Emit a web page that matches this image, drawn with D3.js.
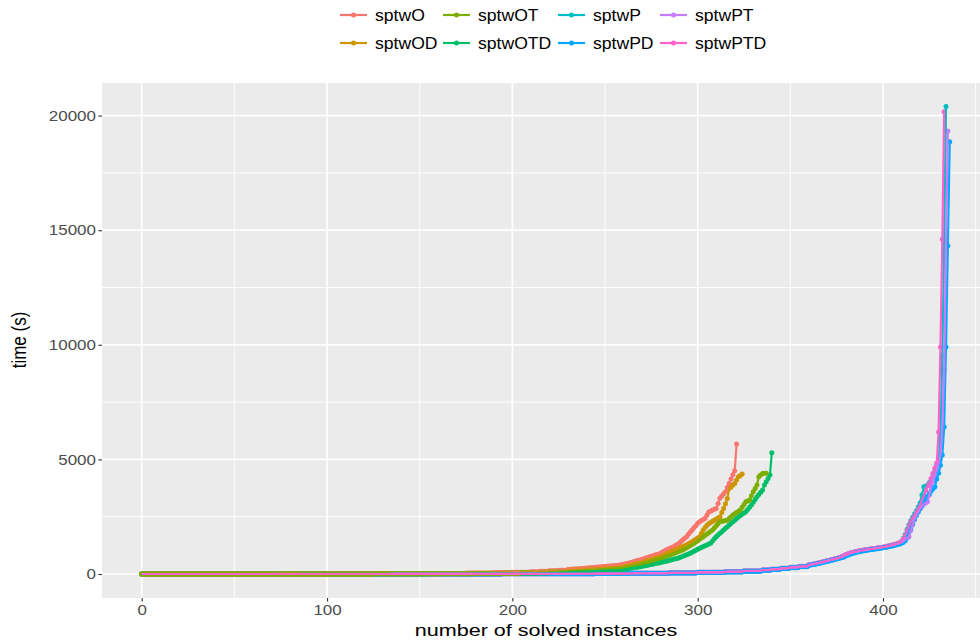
<!DOCTYPE html>
<html><head><meta charset="utf-8">
<script src="https://cdn.jsdelivr.net/npm/d3@7/dist/d3.min.js"></script>
<style>
body{margin:0;background:#fff;}
text{font-family:"Liberation Sans",Arial,Helvetica,sans-serif;}
</style>
</head><body>
<svg id="chart" width="980" height="640"></svg>
<script>
// ---------------- DATA ----------------
const seriesNames  = ["sptwO","sptwOD","sptwOT","sptwOTD","sptwP","sptwPD","sptwPT","sptwPTD"];
const seriesColors = ["#F8766D","#CD9600","#7CAE00","#00BE67","#00BFC4","#00A9FF","#C77CFF","#FF61CC"];
const xTicks = [0,100,200,300,400];
const xMinor = [50,150,250,350,450];
const yTicks = [0,5000,10000,15000,20000];
const yMinor = [2500,7500,12500,17500];

// sorted solve times: runs of [time, count] for the flat start, then each remaining instance
const runs_sptwO = [[0.5,40],[1,30],[3,30],[6,20],[10,20],[15,20],[25,15],[40,15],[60,10],[80,10],[100,5],[120,5],[140,5],[160,5]];
const tail_sptwO = [
 200,205,210,214,220,226,232,238,245,252,
 260,266,272,279,285,292,300,308,315,322,
 330,337,345,352,358,365,372,380,392,410,
 428,445,462,482,505,528,552,575,595,612,
 640,668,695,722,750,775,800,825,850,875,
 905,955,1005,1050,1085,1120,1155,1190,1240,1290,
 1345,1420,1490,1560,1630,1730,1830,1925,2020,2110,
 2210,2280,2330,2380,2430,2570,2700,2740,2790,2830,
 2860,3080,3300,3400,3500,3590,3770,3950,4150,4330,
 4510,5670];

const runs_sptwOD = [[0.5,45],[1,30],[3,30],[5,20],[8,20],[12,20],[20,15],[30,15],[45,10],[65,10],[85,5],[105,5],[125,5]];
const tail_sptwOD = [
 160,165,170,175,180,185,190,196,202,208,
 214,220,226,232,238,244,250,256,262,268,
 274,280,285,290,296,302,308,314,322,340,
 360,380,400,420,440,460,482,505,525,545,
 565,588,610,635,658,682,705,730,755,780,
 805,830,860,892,925,955,988,1020,1050,1085,
 1120,1160,1195,1232,1270,1315,1362,1410,1465,1520,
 1575,1630,1780,1920,2030,2130,2190,2250,2300,2350,
 2400,2445,2490,2680,2860,3070,3290,3730,3800,3880,
 3950,4100,4240,4300,4360];

const runs_sptwOT = [[0.5,45],[1,30],[2,30],[4,20],[7,20],[10,20],[16,15],[25,15],[38,10],[55,10],[70,5],[85,5],[100,5]];
const tail_sptwOT = [
 120,124,128,132,136,140,144,148,152,157,
 162,167,172,177,182,187,192,198,204,210,
 216,222,228,234,240,246,253,260,270,282,
 295,308,322,335,348,362,376,390,414,438,
 462,486,510,535,560,585,610,635,660,684,
 708,732,757,782,806,830,860,892,922,955,
 988,1020,1050,1098,1146,1195,1243,1292,1340,1398,
 1456,1514,1572,1630,1690,1748,1805,1862,1920,2010,
 2100,2190,2280,2298,2315,2332,2350,2420,2495,2570,
 2625,2680,2735,2790,2910,3030,3150,3190,3230,3410,
 3590,3735,3880,4240,4320,4390,4395,4400];

const runs_sptwOTD = [[0.5,55],[1,30],[2,30],[3,20],[5,20],[8,20],[12,15],[18,15],[28,10],[40,5],[52,5],[64,5]];
const tail_sptwOTD = [
 80,83,86,89,92,95,98,101,104,107,
 110,113,116,120,124,128,132,136,140,143,
 146,149,152,155,158,161,164,167,172,185,
 198,212,226,240,254,268,282,296,308,320,
 336,352,368,384,400,418,435,452,468,484,
 500,520,540,560,580,600,620,640,660,680,
 710,742,775,808,840,870,900,945,990,1034,
 1078,1120,1158,1195,1232,1268,1305,1340,1440,1535,
 1630,1702,1775,1848,1920,1992,2065,2138,2210,2280,
 2350,2420,2490,2548,2605,2662,2720,2815,2912,3010,
 3130,3250,3370,3465,3562,3660,3880,4025,4170,4320,
 5290];

const runs_sptwP = [[0.3,45],[0.6,50],[1,40],[2,30],[4,30],[7,25],[12,25],[20,20],[32,20],[50,15],[75,15],[100,10],[135,10],[175,5],[210,5],[250,5],[290,5],[330,5]];
const tail_sptwP = [
 395,410,425,440,458,476,495,515,535,555,
 575,595,615,636,657,678,700,725,755,800,
 845,872,900,925,946,966,985,1000,1016,1030,
 1045,1058,1070,1082,1094,1106,1118,1130,1142,1155,
 1168,1185,1203,1221,1240,1258,1280,1302,1326,1370,
 1415,1560,1720,1950,2150,2320,2480,2620,2760,2920,
 3100,3450,3810,3830,3880,3990,4150,4350,4560,4780,
 5000,6000,9500,14400,20400];

const runs_sptwPD = [[0.3,45],[0.6,50],[1,40],[2,30],[3,30],[6,25],[10,25],[17,20],[28,20],[45,15],[65,15],[90,10],[120,10],[160,5],[195,5],[235,5],[275,5],[320,5]];
const tail_sptwPD = [
 380,394,408,423,439,456,474,493,512,532,
 552,572,592,612,632,652,673,695,718,745,
 780,820,855,885,910,932,952,970,987,1002,
 1016,1030,1043,1056,1068,1080,1092,1104,1116,1128,
 1140,1155,1172,1190,1208,1226,1246,1268,1290,1312,
 1340,1380,1450,1620,1820,2010,2200,2380,2550,2700,
 2850,3000,3130,3260,3390,3500,3620,3720,3810,4150,
 4400,4750,5190,6410,9900,14320,18860];

const runs_sptwPT = [[0.3,50],[0.6,45],[1,40],[2,30],[4,30],[7,25],[12,25],[19,20],[31,20],[48,15],[72,15],[98,10],[132,10],[170,5],[205,5],[245,5],[285,5],[325,5]];
const tail_sptwPT = [
 390,405,420,436,452,470,490,510,530,550,
 570,590,610,630,650,672,695,720,745,790,
 835,865,893,920,942,962,982,998,1013,1028,
 1042,1055,1067,1079,1091,1103,1115,1127,1139,1151,
 1163,1180,1198,1216,1234,1252,1274,1296,1318,1345,
 1380,1440,1520,1570,1630,1900,2150,2380,2560,2720,
 2850,2960,3050,3100,3150,3450,3800,4050,4300,4550,
 4850,5200,6300,8900,14500,19330];

const runs_sptwPTD = [[0.3,45],[0.6,50],[1,40],[2,30],[4,30],[7,25],[12,25],[20,20],[32,20],[50,15],[75,15],[100,10],[135,10],[175,5],[212,5],[252,5],[292,5],[335,5]];
const tail_sptwPTD = [
 400,415,430,446,462,480,500,520,540,560,
 580,600,620,640,660,680,705,730,760,805,
 850,877,904,930,950,970,990,1005,1020,1035,
 1050,1062,1074,1086,1098,1110,1122,1134,1146,1158,
 1170,1188,1206,1224,1242,1260,1283,1306,1330,1375,
 1420,1540,1680,1900,2120,2280,2430,2560,2700,2850,
 3000,3220,3420,3640,3850,3970,4180,4400,4620,4840,
 6200,9900,14600,20170];

// ---------------- BUILD ----------------
function decode(runs, tail){
  const v = [];
  runs.forEach(([t,n]) => { for (let k=0;k<n;k++) v.push(t); });
  return v.concat(tail);
}
const allRuns  = [runs_sptwO,runs_sptwOD,runs_sptwOT,runs_sptwOTD,runs_sptwP,runs_sptwPD,runs_sptwPT,runs_sptwPTD];
const allTails = [tail_sptwO,tail_sptwOD,tail_sptwOT,tail_sptwOTD,tail_sptwP,tail_sptwPD,tail_sptwPT,tail_sptwPTD];
const series = seriesNames.map((name,i) => ({
  name, color: seriesColors[i],
  values: decode(allRuns[i], allTails[i]).map((t,k) => ({x:k, y:t}))
}));

const svg = d3.select("#chart");
svg.append("rect").attr("width",980).attr("height",640).attr("fill","#fff");

const panel = {left:102, top:83, right:990, bottom:598};
const x = d3.scaleLinear().domain([0,400]).range([141.7, 883.0]);
const y = d3.scaleLinear().domain([0,20000]).range([574, 115.6]);

svg.append("rect").attr("x",panel.left).attr("y",panel.top)
  .attr("width",panel.right-panel.left).attr("height",panel.bottom-panel.top)
  .attr("fill","#EBEBEB");

const grid = svg.append("g");
grid.selectAll(".ym").data(yMinor).enter().append("line")
  .attr("x1",panel.left).attr("x2",panel.right).attr("y1",d=>y(d)).attr("y2",d=>y(d))
  .attr("stroke","#fff").attr("stroke-width",0.9);
grid.selectAll(".xm").data(xMinor).enter().append("line")
  .attr("y1",panel.top).attr("y2",panel.bottom).attr("x1",d=>x(d)).attr("x2",d=>x(d))
  .attr("stroke","#fff").attr("stroke-width",0.9);
grid.selectAll(".yM").data(yTicks).enter().append("line")
  .attr("x1",panel.left).attr("x2",panel.right).attr("y1",d=>y(d)).attr("y2",d=>y(d))
  .attr("stroke","#fff").attr("stroke-width",1.7);
grid.selectAll(".xM").data(xTicks).enter().append("line")
  .attr("y1",panel.top).attr("y2",panel.bottom).attr("x1",d=>x(d)).attr("x2",d=>x(d))
  .attr("stroke","#fff").attr("stroke-width",1.7);

const plot = svg.append("g")
  .attr("clip-path","url(#clipPanel)");
svg.append("clipPath").attr("id","clipPanel").append("rect")
  .attr("x",panel.left).attr("y",panel.top)
  .attr("width",panel.right-panel.left).attr("height",panel.bottom-panel.top);

// points layer (drawing order tuned to match the overlap look)
const pointOrder = ["sptwP","sptwPT","sptwPTD","sptwPD","sptwO","sptwOTD","sptwOD","sptwOT"];
pointOrder.forEach(nm => {
  const s = series.find(d => d.name === nm);
  plot.append("g").selectAll("circle").data(s.values).enter().append("circle")
    .attr("cx",d=>x(d.x)).attr("cy",d=>y(d.y)).attr("r",2.5).attr("fill",s.color);
});
// lines layer
const line = d3.line().x(d=>x(d.x)).y(d=>y(d.y));
series.forEach(s => {
  plot.append("path").datum(s.values).attr("d",line)
    .attr("fill","none").attr("stroke",s.color).attr("stroke-width",2.2)
    .attr("stroke-linejoin","round");
});

// axes
const yAxis = d3.axisLeft(y).tickValues(yTicks).tickSize(3.6).tickPadding(1.6).tickFormat(d3.format("d"));
const gy = svg.append("g").attr("transform",`translate(${panel.left},0)`).call(yAxis);
gy.select(".domain").remove();
gy.selectAll(".tick line").attr("stroke","#333").attr("stroke-width",1.1);
gy.selectAll(".tick text").attr("fill","#4D4D4D").style("font-size","14.5px")
  .attr("transform","scale(1.17,1)");

const xAxis = d3.axisBottom(x).tickValues(xTicks).tickSize(3.6).tickPadding(3.4).tickFormat(d3.format("d"));
const gx = svg.append("g").attr("transform",`translate(0,${panel.bottom})`).call(xAxis);
gx.select(".domain").remove();
gx.selectAll(".tick line").attr("stroke","#333").attr("stroke-width",1.1);
gx.selectAll(".tick text").attr("fill","#4D4D4D").style("font-size","14.5px")
  .attr("transform","scale(1.17,1)");

// axis titles
svg.append("text").attr("transform","translate(546,636) scale(1.27,1)")
  .attr("text-anchor","middle").style("font-size","17px").attr("fill","#000")
  .text("number of solved instances");
svg.append("text").attr("transform","translate(26,340) rotate(-90) scale(1,1.15)")
  .attr("text-anchor","middle").style("font-size","17px").attr("fill","#000")
  .text("time (s)");

// legend (2 rows, filled by column)
const legKeyX = [340, 443, 558, 660];
const legRowY = [15, 43];
const leg = svg.append("g");
series.forEach((s,i) => {
  const col = Math.floor(i/2), row = i%2;
  const kx = legKeyX[col], ky = legRowY[row];
  const g = leg.append("g");
  g.append("line").attr("x1",kx).attr("x2",kx+27).attr("y1",ky).attr("y2",ky)
    .attr("stroke",s.color).attr("stroke-width",2.2);
  g.append("circle").attr("cx",kx+13.5).attr("cy",ky).attr("r",2.5).attr("fill",s.color);
  g.append("text").attr("transform",`translate(${kx+35},${ky}) scale(1.1,1)`)
    .attr("dy","0.36em").style("font-size","16px").attr("fill","#000").text(s.name);
});
</script>
</body></html>
